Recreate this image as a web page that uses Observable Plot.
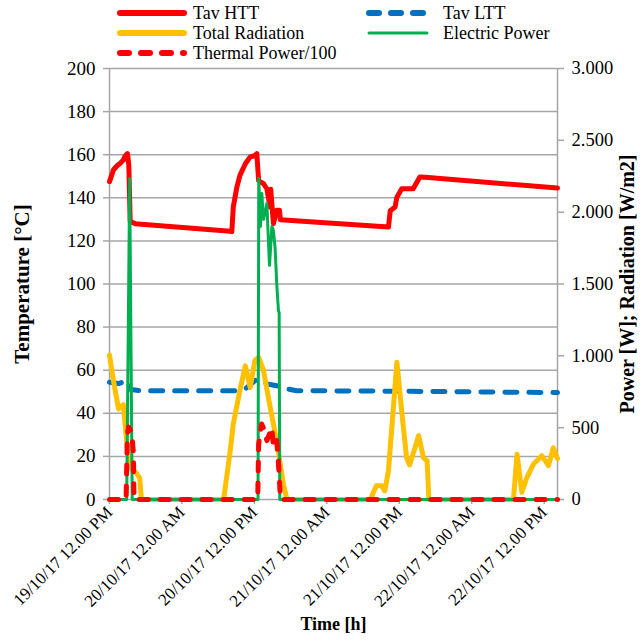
<!DOCTYPE html>
<html><head><meta charset="utf-8">
<script src="https://cdn.jsdelivr.net/npm/d3@7"></script>
<script src="https://cdn.jsdelivr.net/npm/@observablehq/plot@0.6"></script>
<style>
body{margin:0;background:#fff;}
#legend{position:relative;width:642px;height:62px;font-family:'Liberation Serif','Times New Roman',serif;font-size:18px;color:#000;}
#legend .item{position:absolute;white-space:nowrap;}
#legend svg{position:absolute;overflow:visible;}
#chart svg, #chart svg text{font-family:'Liberation Serif','Times New Roman',serif;}
</style>
</head><body>
<div id="legend"></div>
<div id="chart"></div>
<script>
// ---- data (hours since 19/10/17 12:00 PM) ----
const xTickHours = [0, 12, 24, 36, 48, 60, 72];
const xTickLabels = ["19/10/17 12.00 PM", "20/10/17 12.00 AM", "20/10/17 12.00 PM", "21/10/17 12.00 AM", "21/10/17 12.00 PM", "22/10/17 12.00 AM", "22/10/17 12.00 PM"];
const xDomain = [0, 74.2];
const leftTicks = [0, 20, 40, 60, 80, 100, 120, 140, 160, 180, 200];
const rightTicks = [0, 500, 1000, 1500, 2000, 2500, 3000];

// Tav HTT [°C]
const httT = [0, 0.66, 1.3, 1.77, 2.3, 2.6, 2.98, 3.2, 3.43, 4.25, 20.0, 20.26, 20.5, 21.1, 21.6, 22.5, 23.3, 24.0, 24.4, 24.7, 25.5, 26.06, 26.6, 26.7, 27.15, 27.7, 28.15, 28.3, 46.2, 46.5, 47.3, 47.6, 48.4, 50.3, 51.4, 52.3, 74.2];
const httV = [147.5, 153, 155, 156, 157.5, 159.5, 160.5, 155, 129, 128, 124.5, 124.3, 135.7, 145, 150.4, 155.8, 159, 159.5, 160.5, 148, 146.6, 144.2, 135.7, 144, 128, 134.2, 134.2, 129.8, 126.4, 134, 135.7, 140.3, 144.2, 144.2, 149.6, 149.5, 144.5];

// Tav LTT [°C]
const lttT = [0, 1.5, 2.9, 3.5, 5, 21.1, 22.5, 24.1, 24.7, 26.1, 27.7, 29.4, 31, 50, 74.2];
const lttV = [54.4, 53.8, 55.2, 51, 50.5, 50.5, 51.3, 55.2, 55.9, 53.6, 52.8, 51.3, 50.5, 50.2, 49.6];

// Total Radiation [W/m2]
const radT = [0, 0.66, 1.5, 2.3, 2.88, 3.43, 4.5, 5.0, 5.3, 18.9, 20.0, 20.5, 21.6, 22.5, 23.3, 24.1, 24.7, 25.5, 26.6, 27.7, 28.8, 29.4, 43.2, 44.2, 45.1, 45.6, 46.2, 47.6, 48.4, 49.2, 49.7, 50.6, 51.2, 52.0, 52.6, 52.9, 66.9, 67.5, 68.3, 69.1, 70.2, 71.6, 72.7, 73.5, 74.2];
const radV = [1005, 825, 630, 660, 385, 225, 180, 150, 0, 0, 340, 525, 760, 930, 780, 970, 990, 900, 645, 405, 105, 0, 0, 95, 95, 60, 200, 955, 615, 290, 240, 360, 445, 290, 270, 0, 0, 315, 50, 150, 245, 305, 235, 360, 285];

// Electric Power [W]
const elT = [0, 2.85, 3.34, 3.76, 24.6, 24.72, 25.0, 25.23, 25.5, 25.78, 26.06, 26.5, 26.9, 27.15, 27.43, 27.7, 27.98, 28.1, 28.2, 74.2];
const elV = [0, 0, 2235, 0, 0, 2235, 1900, 2130, 1950, 2000, 2060, 1630, 1900, 1870, 1750, 1500, 1315, 1300, 0, 0];

// Thermal Power/100
const thT = [0, 2.75, 2.95, 3.15, 3.7, 3.97, 4.05, 24.55, 24.7, 25.2, 25.8, 26.06, 26.9, 27.15, 27.7, 28.1, 28.3, 74.2];
const thV = [0, 0, 450, 505, 465, 315, 0, 0, 385, 525, 470, 410, 500, 365, 410, 180, 0, 0];

const seriesNames = ["Tav HTT", "Tav LTT", "Total Radiation", "Electric Power", "Thermal Power/100"];
const seriesColors = ["#FF0000", "#0070C0", "#FFC000", "#00B050", "#FF0000"];

// ---- build ----
const SCALE = 3000 / 200; // right axis units per left-axis unit
const zip = (t, v) => t.map((h, i) => ({h, v: v[i]}));
const htt = zip(httT, httV), ltt = zip(lttT, lttV), rad = zip(radT, radV), el = zip(elT, elV), th = zip(thT, thV);
const fmtR = d3.formatLocale({decimal: ",", thousands: ".", grouping: [3], currency: ["", ""]}).format(",");
const grid = "#A6A6A6";
const FONT = "'Liberation Serif','Times New Roman',serif";

const chart = Plot.plot({
  width: 642, height: 579,
  marginTop: 6, marginBottom: 142, marginLeft: 109, marginRight: 85,
  style: {fontFamily: FONT, fontSize: "19px", background: "white", color: "black", overflow: "visible"},
  x: {domain: xDomain},
  y: {domain: [0, 200]},
  marks: [
    Plot.gridY(leftTicks, {stroke: grid, strokeOpacity: 1, strokeWidth: 1.5}),
    Plot.ruleX(xDomain, {stroke: grid, strokeWidth: 1.5}),
    Plot.axisY(leftTicks, {anchor: "left", tickSize: 6, tickPadding: 8, stroke: grid, strokeWidth: 1.5, fill: "black", fontSize: 19, label: null}),
    Plot.axisY(rightTicks.map(v => v / SCALE), {anchor: "right", tickSize: 6, tickPadding: 8, stroke: grid, strokeWidth: 1.5, fill: "black", fontSize: 18.5, label: null, tickFormat: d => fmtR(Math.round(d * SCALE))}),
    Plot.axisX(xTickHours, {anchor: "bottom", tickSize: 5, tickPadding: 5, tickRotate: -45, stroke: grid, strokeWidth: 1.5, fill: "black", fontSize: 17, label: null, tickFormat: d => xTickLabels[xTickHours.indexOf(d)]}),
    Plot.line(htt, {x: "h", y: "v", stroke: seriesColors[0], strokeWidth: 5, strokeLinejoin: "round", strokeLinecap: "round"}),
    Plot.line(ltt, {x: "h", y: "v", stroke: seriesColors[1], strokeWidth: 5, strokeDasharray: "12,12", strokeLinecap: "round", strokeLinejoin: "round"}),
    Plot.line(rad, {x: "h", y: d => d.v / SCALE, stroke: seriesColors[2], strokeWidth: 5, strokeLinejoin: "round", strokeLinecap: "round"}),
    Plot.line(el, {x: "h", y: d => d.v / SCALE, stroke: seriesColors[3], strokeWidth: 3, strokeLinejoin: "round"}),
    Plot.line(th, {x: "h", y: d => d.v / SCALE, stroke: seriesColors[4], strokeWidth: 5, strokeDasharray: "9,12", strokeLinecap: "round", strokeLinejoin: "round"}),
    Plot.text(["Temperature [°C]"], {frameAnchor: "left", textAnchor: "middle", dx: -87, rotate: -90, fontWeight: "bold", fontSize: 21, fill: "black"}),
    Plot.text(["Power [W]; Radiation [W/m2]"], {frameAnchor: "right", textAnchor: "middle", dx: 70, rotate: -90, fontWeight: "bold", fontSize: 20, fill: "black"}),
    Plot.text(["Time [h]"], {frameAnchor: "bottom", dy: 130, fontWeight: "bold", fontSize: 18, fill: "black"})
  ]
});
document.getElementById("chart").appendChild(chart);

// ---- legend ----
const legendLayout = [
  {i: 0, x: 117, len: 70, tx: 193, y: 13, w: 6},
  {i: 1, x: 366, len: 64, tx: 443, y: 13, w: 6, dash: "10,12"},
  {i: 2, x: 117, len: 70, tx: 193, y: 33, w: 6},
  {i: 3, x: 366, len: 64, tx: 443, y: 33, w: 3},
  {i: 4, x: 117, len: 70, tx: 193, y: 53, w: 6, dash: "9,12"}
];
const leg = d3.select("#legend");
for (const L of legendLayout) {
  const s = leg.append("svg").attr("width", L.len).attr("height", 10)
    .style("left", L.x + "px").style("top", (L.y - 5) + "px");
  s.append("line").attr("x1", 3).attr("x2", L.len - 3).attr("y1", 5).attr("y2", 5)
    .attr("stroke", seriesColors[L.i]).attr("stroke-width", L.w)
    .attr("stroke-linecap", "round").attr("stroke-dasharray", L.dash || null);
  leg.append("div").attr("class", "item").style("left", L.tx + "px").style("top", (L.y - 8) + "px")
    .style("line-height", "16px").text(seriesNames[L.i]);
}
</script>
</body></html>
